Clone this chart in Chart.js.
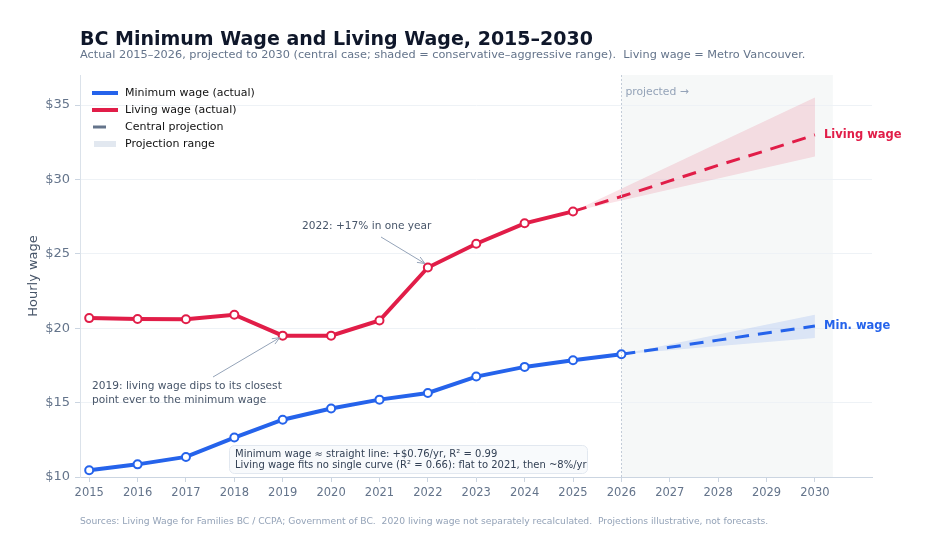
<!DOCTYPE html>
<html>
<head>
<meta charset="utf-8">
<script src="https://cdn.jsdelivr.net/npm/chart.js@4/dist/chart.umd.min.js"></script>
<style>
  body { margin: 0; background: #fff; }
  canvas { display: block; }
</style>
</head>
<body>
<canvas id="chart" width="938" height="534"></canvas>
<script>
// actual values
const minYears = [2015, 2016, 2017, 2018, 2019, 2020, 2021, 2022, 2023, 2024, 2025, 2026];
const minWage = [10.45, 10.85, 11.35, 12.65, 13.85, 14.60, 15.20, 15.65, 16.75, 17.40, 17.85, 18.25];
const livingYears = [2015, 2016, 2017, 2018, 2019, 2020, 2021, 2022, 2023, 2024, 2025];
const livingWage = [20.68, 20.62, 20.60, 20.91, 19.50, 19.50, 20.52, 24.08, 25.68, 27.05, 27.85];

// projections (central case + range)
const livingProjYears = [2025, 2026, 2027, 2028, 2029, 2030];
const livingCentral = [27.85, 28.85, 29.9, 30.95, 31.95, 33.0];
const livingRangeYears = [2025, 2030];
const livingLow = [27.85, 31.55];
const livingHigh = [27.85, 35.5];

const minProjYears = [2026, 2027, 2028, 2029, 2030];
const minCentral = [18.25, 18.72, 19.2, 19.68, 20.15];
const minRangeYears = [2026, 2030];
const minLow = [18.25, 19.35];
const minHigh = [18.25, 20.9];

const projectedSpan = [2026, 2030.37];
const yTicks = [10, 15, 20, 25, 30, 35];
const xTicks = [2015, 2016, 2017, 2018, 2019, 2020, 2021, 2022, 2023, 2024, 2025, 2026, 2027, 2028, 2029, 2030];

const BLUE = '#2563eb';
const RED = '#e11d48';
const FONT = "'DejaVu Sans', sans-serif";

function pts(xs, ys) {
    return xs.map((x, i) => ({ x: x, y: ys[i] }));
}

function arrow(ctx, x1, y1, x2, y2) {
    ctx.beginPath();
    ctx.moveTo(x1, y1);
    ctx.lineTo(x2, y2);
    let a = Math.atan2(y2 - y1, x2 - x1);
    let h = 8;
    ctx.moveTo(x2 - h * Math.cos(a - 0.4), y2 - h * Math.sin(a - 0.4));
    ctx.lineTo(x2, y2);
    ctx.lineTo(x2 - h * Math.cos(a + 0.4), y2 - h * Math.sin(a + 0.4));
    ctx.stroke();
}

const background = {
    id: 'background',
    beforeDraw(chart) {
        const { ctx, chartArea, scales } = chart;
        let x0 = scales.x.getPixelForValue(projectedSpan[0]);
        let x1 = scales.x.getPixelForValue(projectedSpan[1]);
        ctx.save();
        ctx.fillStyle = '#f6f8f8';
        ctx.fillRect(x0, chartArea.top, x1 - x0, chartArea.bottom - chartArea.top);
        ctx.restore();
    },
    afterDatasetsDraw(chart) {
        const { ctx, chartArea, scales } = chart;
        let x0 = Math.round(scales.x.getPixelForValue(projectedSpan[0])) + 0.5;
        ctx.save();
        ctx.strokeStyle = '#c3ccd8';
        ctx.lineWidth = 1;
        ctx.setLineDash([2, 2]);
        ctx.beginPath();
        ctx.moveTo(x0, chartArea.top);
        ctx.lineTo(x0, chartArea.bottom);
        ctx.stroke();
        ctx.restore();
    }
};

const overlay = {
    id: 'overlay',
    afterDraw(chart) {
        const { ctx, chartArea, scales } = chart;
        const sx = scales.x, sy = scales.y;
        ctx.save();
        ctx.textBaseline = 'middle';

        // titles
        ctx.fillStyle = '#0f172a';
        ctx.font = `bold 19px ${FONT}`;
        ctx.fillText('BC Minimum Wage and Living Wage, 2015–2030', 80, 40);
        ctx.fillStyle = '#64748b';
        ctx.font = `11.3px ${FONT}`;
        ctx.fillText('Actual 2015–2026, projected to 2030 (central case; shaded = conservative–aggressive range).  Living wage = Metro Vancouver.', 80, 55);

        // footer
        ctx.fillStyle = '#94a3b8';
        ctx.font = `9.2px ${FONT}`;
        ctx.fillText('Sources: Living Wage for Families BC / CCPA; Government of BC.  2020 living wage not separately recalculated.  Projections illustrative, not forecasts.', 80, 522);

        // y axis title
        ctx.save();
        ctx.translate(34, 276);
        ctx.rotate(-Math.PI / 2);
        ctx.textAlign = 'center';
        ctx.fillStyle = '#475569';
        ctx.font = `13px ${FONT}`;
        ctx.fillText('Hourly wage', 0, 0);
        ctx.restore();

        // projected label
        ctx.fillStyle = '#94a3b8';
        ctx.font = `10.8px ${FONT}`;
        ctx.fillText('projected →', sx.getPixelForValue(projectedSpan[0]) + 4, 92);

        // legend
        ctx.font = `11px ${FONT}`;
        ctx.lineCap = 'butt';
        let rows = [93, 110, 127, 144];
        ctx.lineWidth = 4;
        ctx.strokeStyle = BLUE;
        ctx.beginPath(); ctx.moveTo(92, rows[0]); ctx.lineTo(118, rows[0]); ctx.stroke();
        ctx.strokeStyle = RED;
        ctx.beginPath(); ctx.moveTo(92, rows[1]); ctx.lineTo(118, rows[1]); ctx.stroke();
        ctx.lineWidth = 3;
        ctx.strokeStyle = '#64748b';
        ctx.beginPath(); ctx.moveTo(93, rows[2]); ctx.lineTo(106, rows[2]); ctx.stroke();
        ctx.fillStyle = '#e2e8f0';
        ctx.fillRect(94, rows[3] - 3, 22, 6);
        ctx.fillStyle = '#111111';
        ['Minimum wage (actual)', 'Living wage (actual)', 'Central projection', 'Projection range']
            .forEach((t, i) => ctx.fillText(t, 125, rows[i]));

        // end labels
        ctx.font = `bold 11.5px ${FONT}`;
        ctx.fillStyle = RED;
        ctx.fillText('Living wage', 824, sy.getPixelForValue(livingCentral[livingCentral.length - 1]));
        ctx.fillStyle = BLUE;
        ctx.fillText('Min. wage', 824, sy.getPixelForValue(minCentral[minCentral.length - 1]));

        // annotations
        ctx.strokeStyle = '#94a3b8';
        ctx.lineWidth = 1;
        let p22x = sx.getPixelForValue(2022), p22y = sy.getPixelForValue(livingWage[7]);
        arrow(ctx, 381, 237, p22x - 3, p22y - 4);
        let p19x = sx.getPixelForValue(2019), p19y = sy.getPixelForValue(livingWage[4]);
        arrow(ctx, 213, 377, p19x - 3, p19y + 2);
        ctx.fillStyle = '#475569';
        ctx.font = `10.6px ${FONT}`;
        ctx.fillText('2022: +17% in one year', 302, 226);
        ctx.fillText('2019: living wage dips to its closest', 92, 386);
        ctx.fillText('point ever to the minimum wage', 92, 400);

        // fit box
        ctx.beginPath();
        ctx.roundRect(229.5, 445.5, 358, 28, 5);
        ctx.fillStyle = 'rgba(248,250,252,0.95)';
        ctx.fill();
        ctx.strokeStyle = '#e2e8f0';
        ctx.stroke();
        ctx.fillStyle = '#334155';
        ctx.font = `10px ${FONT}`;
        ctx.fillText('Minimum wage ≈ straight line: +$0.76/yr, R² = 0.99', 235, 454);
        ctx.fillText('Living wage fits no single curve (R² = 0.66): flat to 2021, then ~8%/yr', 235, 465);

        ctx.restore();
    }
};

const ctx = document.getElementById('chart').getContext('2d');

const myChart = new Chart(ctx, {
    type: 'line',
    data: {
        datasets: [{
            data: pts(livingRangeYears, livingLow),
            borderWidth: 0,
            pointRadius: 0,
            fill: false,
            order: 3
        }, {
            data: pts(livingRangeYears, livingHigh),
            borderWidth: 0,
            pointRadius: 0,
            backgroundColor: 'rgba(225, 29, 72, 0.13)',
            fill: '-1',
            order: 3
        }, {
            data: pts(minRangeYears, minLow),
            borderWidth: 0,
            pointRadius: 0,
            fill: false,
            order: 3
        }, {
            data: pts(minRangeYears, minHigh),
            borderWidth: 0,
            pointRadius: 0,
            backgroundColor: 'rgba(37, 99, 235, 0.13)',
            fill: '-1',
            order: 3
        }, {
            data: pts(livingProjYears, livingCentral),
            borderColor: RED,
            borderWidth: 3,
            borderDash: [14, 9],
            pointRadius: 0,
            fill: false,
            order: 2
        }, {
            data: pts(minProjYears, minCentral),
            borderColor: BLUE,
            borderWidth: 3,
            borderDash: [14, 9],
            pointRadius: 0,
            fill: false,
            order: 2
        }, {
            label: 'Living wage (actual)',
            data: pts(livingYears, livingWage),
            borderColor: RED,
            borderWidth: 4,
            pointRadius: 4,
            pointBorderWidth: 2,
            pointBackgroundColor: '#ffffff',
            pointBorderColor: RED,
            fill: false,
            order: 1
        }, {
            label: 'Minimum wage (actual)',
            data: pts(minYears, minWage),
            borderColor: BLUE,
            borderWidth: 4,
            pointRadius: 4,
            pointBorderWidth: 2,
            pointBackgroundColor: '#ffffff',
            pointBorderColor: BLUE,
            fill: false,
            order: 0
        }]
    },
    options: {
        responsive: false,
        devicePixelRatio: 1,
        animation: false,
        layout: { padding: { top: 75, right: 66, bottom: 0, left: 0 } },
        plugins: {
            legend: { display: false },
            tooltip: { enabled: false }
        },
        scales: {
            x: {
                type: 'linear',
                min: 2014.81,
                max: 2031.18,
                afterFit: s => { s.height = 57; },
                afterBuildTicks: s => { s.ticks = xTicks.map(v => ({ value: v })); },
                grid: { drawOnChartArea: false, color: '#cbd5e1', tickLength: 5 },
                border: { color: '#cbd5e1' },
                ticks: {
                    color: '#64748b',
                    font: { family: FONT, size: 11.5 },
                    padding: 4,
                    maxRotation: 0,
                    autoSkip: false,
                    callback: v => String(v)
                }
            },
            y: {
                min: 10,
                max: 37.02,
                afterFit: s => { s.width = 80; },
                afterBuildTicks: s => { s.ticks = yTicks.map(v => ({ value: v })); },
                grid: { color: '#eef2f6', tickColor: '#cbd5e1', tickLength: 5 },
                border: { color: '#dbe2ea' },
                ticks: {
                    color: '#64748b',
                    font: { family: FONT, size: 13 },
                    padding: 5,
                    callback: v => '$' + v
                }
            }
        }
    },
    plugins: [background, overlay]
});
</script>
</body>
</html>
